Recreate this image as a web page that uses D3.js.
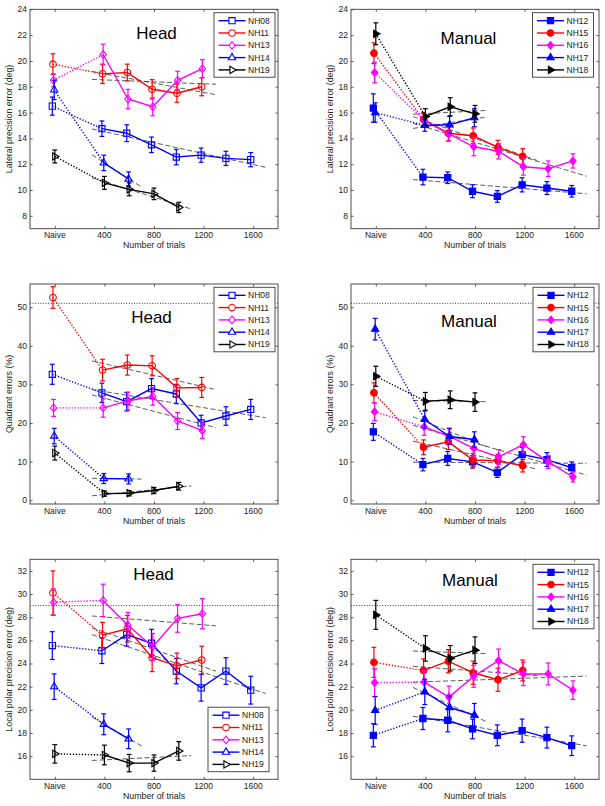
<!DOCTYPE html>
<html><head><meta charset="utf-8">
<script src="https://cdn.jsdelivr.net/npm/d3@7"></script>
<style>body{margin:0;background:#fff} text{font-family:"Liberation Sans",Arial,Helvetica,sans-serif}</style>
</head><body><svg id="c" width="605" height="806"></svg>
<script>
// ---------------- DATA ----------------
const trials = [0, 400, 600, 800, 1000, 1200, 1400, 1600];
const xTickValues = [0, 400, 800, 1200, 1600];
const xTickLabels = ["Naive", "400", "800", "1200", "1600"];
const headSubjects = ["NH08", "NH11", "NH13", "NH14", "NH19"];
const manualSubjects = ["NH12", "NH15", "NH16", "NH17", "NH18"];
const subjectColors = ["#0000ff", "#ff0000", "#ff00ff", "#0000ff", "#000000"];
const subjectMarkers = ["square", "circle", "diamond", "triUp", "triRight"];
const xJitter = [-20, -15, -10, -5, 0];

const latYTicks = [8, 10, 12, 14, 16, 18, 20, 22, 24];
const quadYTicks = [0, 10, 20, 30, 40, 50];
const polarYTicks = [16, 18, 20, 22, 24, 26, 28, 30, 32];
const quadChance = 51;
const polarChance = 29;

// Lateral precision error (deg)
const latHeadMean = [
  [16.5, 14.75, 14.4, 13.5, 12.55, 12.7, 12.45, 12.35],
  [19.75, 19.0, 19.1, 17.8, 17.5, 18.0],
  [18.5, 20.5, 17.05, 16.45, 18.5, 19.4],
  [17.75, 12.1, 10.85],
  [12.6, 10.55, 10.05, 9.7, 8.65]
];
const latHeadErr = [
  [0.7, 0.6, 0.65, 0.6, 0.6, 0.55, 0.55, 0.55],
  [0.8, 0.75, 0.65, 0.75, 0.7, 0.7],
  [0.5, 0.8, 0.75, 0.7, 0.7, 0.7],
  [0.75, 0.6, 0.55],
  [0.5, 0.5, 0.5, 0.45, 0.4]
];
const latManualMean = [
  [16.35, 11.0, 10.95, 9.9, 9.5, 10.4, 10.15, 9.9],
  [20.6, 15.45, 14.4, 14.2, 13.3, 12.6],
  [19.1, 15.4, 14.35, 13.35, 13.0, 11.8, 11.65, 12.25],
  [16.0, 15.0, 15.05, 15.6],
  [22.1, 15.7, 16.45, 15.9]
];
const latManualErr = [
  [1.1, 0.6, 0.45, 0.5, 0.45, 0.55, 0.5, 0.45],
  [0.8, 0.55, 0.6, 0.6, 0.55, 0.6],
  [0.8, 0.5, 0.55, 0.7, 0.6, 0.65, 0.6, 0.55],
  [0.75, 0.45, 0.65, 0.7],
  [0.85, 0.6, 0.7, 0.65]
];
// Quadrant errors (%)
const quadHeadMean = [
  [32.6, 27.8, 25.5, 28.9, 27.5, 20.0, 21.8, 23.5],
  [52.5, 33.7, 35.0, 34.8, 29.1, 29.2],
  [23.9, 23.9, 25.7, 26.9, 20.5, 18.0],
  [16.6, 5.6, 5.5],
  [12.2, 1.7, 1.8, 2.5, 3.6]
];
const quadHeadErr = [
  [2.6, 2.5, 2.4, 2.6, 2.5, 2.0, 2.4, 2.6],
  [2.8, 2.8, 2.6, 2.6, 2.4, 2.6],
  [2.2, 2.4, 2.3, 2.3, 2.2, 2.0],
  [2.0, 1.3, 1.3],
  [1.8, 0.7, 0.7, 0.8, 1.0]
];
const quadManualMean = [
  [17.7, 9.2, 10.8, 9.9, 7.2, 11.8, 10.5, 8.4],
  [27.8, 13.7, 15.1, 10.4, 10.2, 8.9],
  [22.9, 19.0, 16.6, 13.4, 11.2, 14.4, 9.9, 6.0],
  [44.3, 20.9, 16.5, 15.7],
  [32.1, 25.6, 26.0, 25.4]
];
const quadManualErr = [
  [2.2, 1.6, 1.8, 1.6, 1.3, 1.9, 1.8, 1.5],
  [2.6, 1.9, 2.0, 1.7, 1.7, 1.6],
  [2.3, 2.2, 2.1, 2.0, 1.9, 2.0, 1.7, 1.3],
  [2.8, 2.2, 2.0, 2.0],
  [2.6, 2.3, 2.3, 2.4]
];
// Local polar precision error (deg)
const polarHeadMean = [
  [25.55, 25.1, 26.5, 25.75, 23.35, 21.9, 23.35, 21.7],
  [30.1, 26.45, 27.0, 24.5, 23.8, 24.3],
  [29.3, 29.45, 27.3, 25.45, 27.9, 28.3],
  [22.0, 18.75, 17.5],
  [16.2, 16.1, 15.4, 15.4, 16.45]
];
const polarHeadErr = [
  [1.2, 1.1, 1.0, 1.2, 1.1, 1.15, 1.15, 1.2],
  [1.9, 1.1, 1.15, 1.2, 1.1, 1.2],
  [1.15, 1.4, 1.1, 1.15, 1.2, 1.3],
  [1.1, 0.9, 0.85],
  [0.8, 0.85, 0.75, 0.7, 0.8]
];
const polarManualMean = [
  [17.8, 19.25, 19.1, 18.35, 17.8, 18.2, 17.6, 16.9],
  [24.1, 23.4, 24.2, 23.2, 22.6, 23.4],
  [22.35, 22.4, 21.1, 22.9, 24.25, 23.1, 23.1, 21.7],
  [19.95, 21.55, 20.2, 19.55],
  [28.2, 25.3, 24.45, 25.15]
];
const polarManualErr = [
  [1.0, 0.95, 1.0, 0.85, 0.9, 1.0, 0.9, 0.85],
  [1.3, 1.0, 1.0, 1.0, 1.0, 0.9],
  [1.2, 1.0, 0.95, 0.95, 1.0, 1.0, 0.95, 0.8],
  [1.2, 1.1, 1.0, 1.0],
  [1.25, 1.1, 1.1, 1.15]
];

// ---------------- LAYOUT ----------------
const colX = [[30, 278], [351, 599]];
const rowY = [[9.3, 228.7], [284, 504], [559.3, 779.3]];

const panels = [
  {r:0,c:0,mean:latHeadMean,err:latHeadErr,subj:headSubjects,filled:false,ydom:[7,24],yt:latYTicks,ylab:"Lateral precision error (deg)",title:"Head",tp:[126.5,30],leg:{corner:"tr",dx:3,dy:3.4},chance:null},
  {r:0,c:1,mean:latManualMean,err:latManualErr,subj:manualSubjects,filled:true,ydom:[7,24],yt:latYTicks,ylab:"Lateral precision error (deg)",title:"Manual",tp:[117.5,35],leg:{corner:"tr",dx:5.5,dy:3.4},chance:null},
  {r:1,c:0,mean:quadHeadMean,err:quadHeadErr,subj:headSubjects,filled:false,ydom:[-1,56],yt:quadYTicks,ylab:"Quadrant errors (%)",title:"Head",tp:[121.5,38.7],leg:{corner:"tr",dx:3,dy:3.3},chance:quadChance},
  {r:1,c:1,mean:quadManualMean,err:quadManualErr,subj:manualSubjects,filled:true,ydom:[-1,56],yt:quadYTicks,ylab:"Quadrant errors (%)",title:"Manual",tp:[118,42.7],leg:{corner:"tr",dx:5,dy:3.3},chance:quadChance},
  {r:2,c:0,mean:polarHeadMean,err:polarHeadErr,subj:headSubjects,filled:false,ydom:[14,33],yt:polarYTicks,ylab:"Local polar precision error (deg)",title:"Head",tp:[123.5,20.7],leg:{corner:"br",dx:9,dy:7.6},chance:polarChance},
  {r:2,c:1,mean:polarManualMean,err:polarManualErr,subj:manualSubjects,filled:true,ydom:[14,33],yt:polarYTicks,ylab:"Local polar precision error (deg)",title:"Manual",tp:[119,26.7],leg:{corner:"tr",dx:5,dy:5},chance:polarChance}
];

const svg = d3.select("#c");
const axisColor = "#3a3a3a";
const tickLen = 2.6;

function markerPath(shape) {
  switch (shape) {
    case "square": { const s = 3.1; return `M${-s},${-s}H${s}V${s}H${-s}Z`; }
    case "circle": { const r = 3.3; return `M${-r},0A${r},${r} 0 1,0 ${r},0A${r},${r} 0 1,0 ${-r},0Z`; }
    case "diamond": { const w = 3.2, h = 3.8; return `M0,${-h}L${w},0L0,${h}L${-w},0Z`; }
    case "triUp": { const t = 4.2; return `M0,${-t}L${t*0.87},${t*0.5}L${-t*0.87},${t*0.5}Z`; }
    case "triRight": { const t = 4.2; return `M${t},0L${-t*0.5},${-t*0.87}L${-t*0.5},${t*0.87}Z`; }
  }
}

function linfit(xs, ys) {
  const n = xs.length;
  const mx = d3.mean(xs), my = d3.mean(ys);
  let num = 0, den = 0;
  for (let i = 0; i < n; i++) { num += (xs[i]-mx)*(ys[i]-my); den += (xs[i]-mx)*(xs[i]-mx); }
  const b = den ? num/den : 0;
  return x => my + b*(x-mx);
}

panels.forEach(p => {
  const [x0, x1] = colX[p.c];
  const [y0, y1] = rowY[p.r];
  const x = d3.scaleLinear().domain([-200, 1800]).range([x0, x1]);
  const y = d3.scaleLinear().domain(p.ydom).range([y1, y0]);
  const g = svg.append("g");

  // ticks (inward on all four sides)
  const axB = d3.axisBottom(x).tickValues(xTickValues).tickSize(-tickLen).tickSizeOuter(0).tickFormat("");
  const axT = d3.axisTop(x).tickValues(xTickValues).tickSize(-tickLen).tickSizeOuter(0).tickFormat("");
  const axL = d3.axisLeft(y).tickValues(p.yt).tickSize(-tickLen).tickSizeOuter(0).tickFormat("");
  const axR = d3.axisRight(y).tickValues(p.yt).tickSize(-tickLen).tickSizeOuter(0).tickFormat("");
  [[axB, `translate(0,${y1})`], [axT, `translate(0,${y0})`], [axL, `translate(${x0},0)`], [axR, `translate(${x1},0)`]].forEach(([ax, tr]) => {
    const a = g.append("g").attr("transform", tr).call(ax);
    a.select(".domain").remove();
    a.selectAll("line").attr("stroke", axisColor).attr("stroke-width", 0.8);
  });

  // tick labels
  g.selectAll(null).data(xTickValues).enter().append("text")
    .attr("x", d => x(d)).attr("y", y1 + 9.5).attr("text-anchor", "middle")
    .attr("font-size", 8.5).attr("fill", "#222").text((d, i) => xTickLabels[i]);
  g.selectAll(null).data(p.yt).enter().append("text")
    .attr("x", x0 - 3).attr("y", d => y(d)).attr("dy", "0.35em").attr("text-anchor", "end")
    .attr("font-size", 8.5).attr("fill", "#222").text(d => d);

  // axis labels
  g.append("text").attr("x", (x0 + x1) / 2).attr("y", y1 + 19.5).attr("text-anchor", "middle")
    .attr("font-size", 8.8).attr("fill", "#222").text("Number of trials");
  g.append("text").attr("transform", `translate(${x0 - 18.5},${(y0 + y1) / 2}) rotate(-90)`)
    .attr("text-anchor", "middle").attr("font-size", 8.8).attr("fill", "#222").text(p.ylab);

  // chance line
  if (p.chance !== null) {
    g.append("line").attr("x1", x0).attr("x2", x1).attr("y1", y(p.chance)).attr("y2", y(p.chance))
      .attr("stroke", "#000").attr("stroke-width", 0.8).attr("stroke-dasharray", "1,1.6");
  }

  // title
  g.append("text").attr("x", x0 + p.tp[0]).attr("y", y0 + p.tp[1]).attr("text-anchor", "middle")
    .attr("font-size", 17).attr("fill", "#000").text(p.title);

  // regression fit lines (dashed)
  p.mean.forEach((vals, si) => {
    const pts = vals.map((v, i) => ({t: trials[i], v}));
    const train = pts.filter(d => d.t > 0);
    const f = linfit(train.map(d => d.t), train.map(d => d.v));
    const fx0 = 300, fx1 = d3.max(train, d => d.t) + 100;
    g.append("line").attr("x1", x(fx0)).attr("x2", x(fx1)).attr("y1", y(f(fx0))).attr("y2", y(f(fx1)))
      .attr("stroke", "#333").attr("stroke-width", 0.8).attr("stroke-dasharray", "5,2.5");
  });

  p.mean.forEach((vals, si) => {
    const col = subjectColors[si];
    const pts = vals.map((v, i) => ({t: trials[i], v, e: p.err[si][i], xj: trials[i] + xJitter[si]}));
    const train = pts.filter(d => d.t > 0);
    const line = d3.line().x(d => x(d.xj)).y(d => y(d.v));
    // dotted naive -> first
    g.append("path").attr("d", line([pts[0], pts[1]])).attr("fill", "none")
      .attr("stroke", col).attr("stroke-width", 1.4).attr("stroke-dasharray", "1.3,1.7");
    // solid training
    g.append("path").attr("d", line(train)).attr("fill", "none")
      .attr("stroke", col).attr("stroke-width", 1.4);
    // error bars
    const eb = g.append("g").attr("stroke", col).attr("stroke-width", 1.2);
    pts.forEach(d => {
      const cx = x(d.xj), ya = y(d.v + d.e), yb = y(d.v - d.e);
      eb.append("line").attr("x1", cx).attr("x2", cx).attr("y1", ya).attr("y2", yb);
      eb.append("line").attr("x1", cx - 2.4).attr("x2", cx + 2.4).attr("y1", ya).attr("y2", ya);
      eb.append("line").attr("x1", cx - 2.4).attr("x2", cx + 2.4).attr("y1", yb).attr("y2", yb);
    });
    // markers
    g.selectAll(null).data(pts).enter().append("path")
      .attr("d", markerPath(subjectMarkers[si]))
      .attr("transform", d => `translate(${x(d.xj)},${y(d.v)})`)
      .attr("fill", p.filled ? col : "none").attr("stroke", col).attr("stroke-width", 1.1);
  });

  // box
  g.append("rect").attr("x", x0).attr("y", y0).attr("width", x1 - x0).attr("height", y1 - y0)
    .attr("fill", "none").attr("stroke", axisColor).attr("stroke-width", 0.9);

  // legend
  const lw = 61, lh = 64.5;
  const lx = x1 - p.leg.dx - lw;
  const ly = p.leg.corner === "tr" ? y0 + p.leg.dy : y1 - p.leg.dy - lh;
  const lg = g.append("g");
  lg.append("rect").attr("x", lx).attr("y", ly).attr("width", lw).attr("height", lh)
    .attr("fill", "#fff").attr("stroke", axisColor).attr("stroke-width", 0.9);
  p.subj.forEach((name, si) => {
    const ry = ly + 8 + si * 12.3;
    const col = subjectColors[si];
    lg.append("line").attr("x1", lx + 4.5).attr("x2", lx + 31.5).attr("y1", ry).attr("y2", ry)
      .attr("stroke", col).attr("stroke-width", 1.4);
    lg.append("path").attr("d", markerPath(subjectMarkers[si])).attr("transform", `translate(${lx + 18},${ry})`)
      .attr("fill", p.filled ? col : "#fff").attr("stroke", col).attr("stroke-width", 1.1);
    lg.append("text").attr("x", lx + 34).attr("y", ry).attr("dy", "0.35em")
      .attr("font-size", 8.5).attr("fill", "#222").text(name);
  });
});
</script></body></html>
